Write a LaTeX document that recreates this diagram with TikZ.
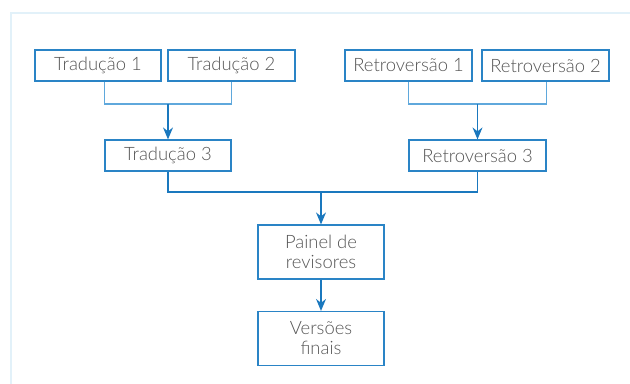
\documentclass[tikz,border=0pt]{standalone}
\usepackage{fontspec}
\setmainfont{Lato}[UprightFont=* Light]
\usetikzlibrary{arrows.meta,positioning}

\definecolor{boxblue}{HTML}{2A84C6}
\definecolor{lineblue}{HTML}{1A78BE}
\definecolor{legblue}{HTML}{5FA8DC}
\definecolor{framecol}{HTML}{E2F1F9}
\definecolor{txtgray}{HTML}{555555}

\tikzset{
  etapa/.style={draw=boxblue,line width=1.2bp,minimum height=31bp,text=txtgray,
    font=\fontsize{18.5}{20}\selectfont,inner sep=0pt,align=center},
  perna/.style={draw=legblue,line width=1.2bp},
  liga/.style={draw=lineblue,line width=1.2bp},
  seta/.style={liga,-{Stealth[length=12bp,width=10bp,inset=4bp]}}
}

\begin{document}
\begin{tikzpicture}[x=1bp,y=-1bp]
      \useasboundingbox (0,0) rectangle (630,383);
      \draw[framecol,line width=2bp] (640,12.5) -- (10.5,12.5) -- (10.5,395);

      \node[etapa,minimum width=126bp] (trad1) at (98,65.5) {Tradução 1};
      \node[etapa,minimum width=127bp] (trad2) at (231.5,65.5) {Tradução 2};
      \node[etapa,minimum width=127bp] (retro1) at (408.5,65.5) {Retroversão 1};
      \node[etapa,minimum width=127bp] (retro2) at (545.5,65.5) {Retroversão 2};

      \node[etapa,minimum width=126bp] (trad3) at (168,155.5) {Tradução 3};
      \node[etapa,minimum width=137bp] (retro3) at (477.5,155.5) {Retroversão 3};

      \node[etapa,minimum width=126bp,minimum height=54bp] (painel) at (321,252) {Painel de\\revisores};
      \node[etapa,minimum width=126bp,minimum height=54bp] (finais) at (321,338.5) {Versões\\finais};

      \coordinate (tj) at (168,104);
      \coordinate (rj) at (477.5,104);
      \coordinate (pj) at (321,192);

      \draw[perna] (trad1.south -| trad3.west) -- (trad3.west |- tj) -- (trad2.south |- tj) -- (trad2.south);
      \draw[perna] (retro1.south -| retro3.west) -- (retro3.west |- rj) -- (retro3.east |- rj) -- (retro2.south -| retro3.east);
      \draw[seta] (tj) -- (trad3.north);
      \draw[seta] (rj) -- (retro3.north);

      \draw[liga] (trad3.south) -- (trad3.south |- pj) -- (retro3.south |- pj) -- (retro3.south);
      \draw[seta] (pj) -- (painel.north);
      \draw[seta] (painel) -- (finais);
  \end{tikzpicture}
\end{document}
